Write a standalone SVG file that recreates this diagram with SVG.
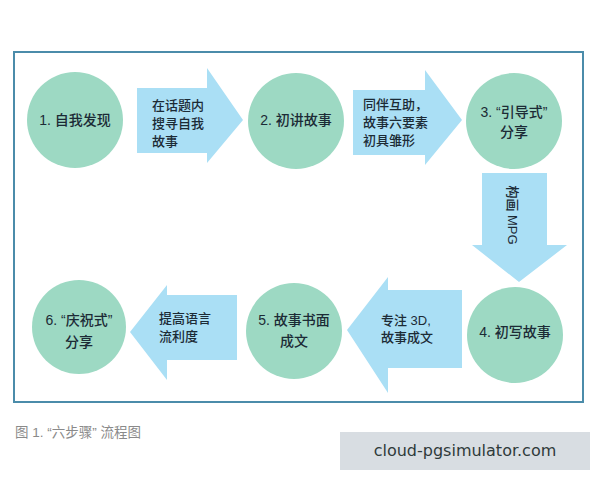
<svg xmlns="http://www.w3.org/2000/svg" width="600" height="480" viewBox="0 0 600 480">
<style>
.c{fill:#9dd9c3}
.a{fill:#aadff5}
.t{font-family:"Liberation Sans","Noto Sans CJK SC",sans-serif;font-size:14px;font-weight:500;fill:#1c2b36}
.m{text-anchor:middle}
.s{font-size:13px}
</style>
<rect width="600" height="480" fill="#ffffff"/>
<rect x="14" y="52" width="569" height="350" fill="#ffffff" stroke="#4b8caa" stroke-width="2"/>
<g id="connectors">
<polygon class="a" points="137,88 207,88 207,68 243,120 207,163 207,153 137,153"/>
<text class="t s" x="152" y="110">在话题内</text>
<text class="t s" x="152" y="128">搜寻自我</text>
<text class="t s" x="152" y="146">故事</text>
<polygon class="a" points="353,90 425,90 425,70 462,120 425,165 425,155 353,155"/>
<text class="t s" x="363" y="109">同伴互助，</text>
<text class="t s" x="363" y="127">故事六要素</text>
<text class="t s" x="363" y="145">初具雏形</text>
<polygon class="a" points="482,173 547,173 547,245 567,245 519,282 472,245 482,245"/>
<text class="t s m" transform="translate(508,215) rotate(90)">构画 MPG</text>
<polygon class="a" points="462,290 388,290 388,277 347,330 388,393 388,368 462,368"/>
<text class="t s" x="381" y="325">专注 3D,</text>
<text class="t s" x="381" y="342">故事成文</text>
<polygon class="a" points="237,295 167,295 167,285 130,332 167,380 167,360 237,360"/>
<text class="t s" x="159" y="323">提高语言</text>
<text class="t s" x="159" y="341">流利度</text>
</g>
<g id="n1"><circle class="c" cx="75" cy="120" r="48"/><text class="t m" x="75" y="125">1. 自我发现</text></g>
<g id="n2"><circle class="c" cx="296" cy="121" r="48"/><text class="t m" x="296" y="125">2. 初讲故事</text></g>
<g id="n3"><circle class="c" cx="514" cy="121" r="48"/><text class="t m" x="514" y="117">3. “引导式”</text><text class="t m" x="514" y="137">分享</text></g>
<g id="n4"><circle class="c" cx="515" cy="335" r="48"/><text class="t m" x="515" y="337">4. 初写故事</text></g>
<g id="n5"><circle class="c" cx="294" cy="331" r="48"/><text class="t m" x="294" y="325">5. 故事书面</text><text class="t m" x="294" y="346">成文</text></g>
<g id="n6"><circle class="c" cx="79" cy="327" r="47"/><text class="t m" x="79" y="325">6. “庆祝式”</text><text class="t m" x="79" y="347">分享</text></g>
<text x="15" y="437" style="font-family:'Liberation Sans','Noto Sans CJK SC',sans-serif;font-size:13.5px;fill:#8a8a8a">图 1. “六步骤” 流程图</text>
<rect x="340" y="432" width="250" height="38" fill="#d8dde2"/>
<text x="465" y="456" text-anchor="middle" style="font-family:'DejaVu Sans',sans-serif;font-size:16px;fill:#2f3a3a">cloud-pgsimulator.com</text>
</svg>
